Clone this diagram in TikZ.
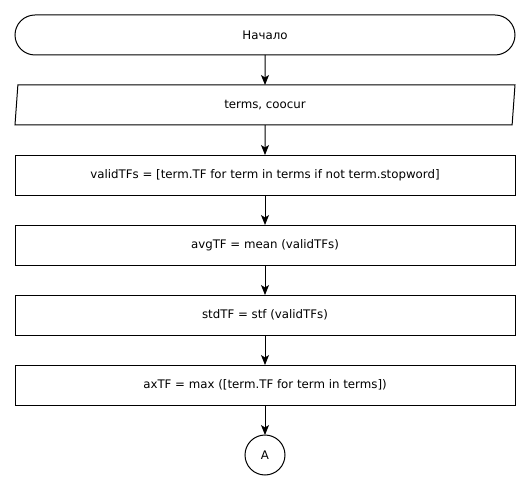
\documentclass[tikz,border=0pt]{standalone}
\usepackage{fontspec}
\setmainfont{DejaVu Sans}
\usetikzlibrary{positioning,shapes.geometric,arrows.meta}

\begin{document}
\begin{tikzpicture}[
  x=1pt, y=1pt,
  node distance=30pt,
  every node/.style={font=\fontsize{11.8}{14}\selectfont, line width=1pt, outer sep=0pt},
  terminal/.style={draw, rounded corners=20pt, minimum width=500pt, minimum height=40pt},
  iobox/.style={draw, trapezium, trapezium left angle=80, trapezium right angle=100,
    trapezium stretches body, minimum width=500pt, minimum height=40pt},
  procbox/.style={draw, minimum width=500pt, minimum height=40pt},
  connector/.style={draw, circle, minimum size=40pt, inner sep=0pt},
  flow/.style={->, line width=1pt},
  >={Stealth[length=10pt,width=8pt,inset=2.5pt]}
]
\useasboundingbox (0,0) rectangle (531,490);

\node[terminal] (start) at (265,455) {Начало};
\node[iobox, below=of start] (input) {terms, coocur};
\node[procbox, below=of input] (valid) {validTFs = [term.TF for term in terms if not term.stopword]};
\node[procbox, below=of valid] (avg) {avgTF = mean (validTFs)};
\node[procbox, below=of avg] (std) {stdTF = stf (validTFs)};
\node[procbox, below=of std] (maxtf) {axTF = max ([term.TF for term in terms])};
\node[connector, below=of maxtf] (conA) {A};

\draw[flow] (start) -- (input);
\draw[flow] (input) -- (valid);
\draw[flow] (valid) -- (avg);
\draw[flow] (avg) -- (std);
\draw[flow] (std) -- (maxtf);
\draw[flow] (maxtf) -- (conA);

\end{tikzpicture}
\end{document}
